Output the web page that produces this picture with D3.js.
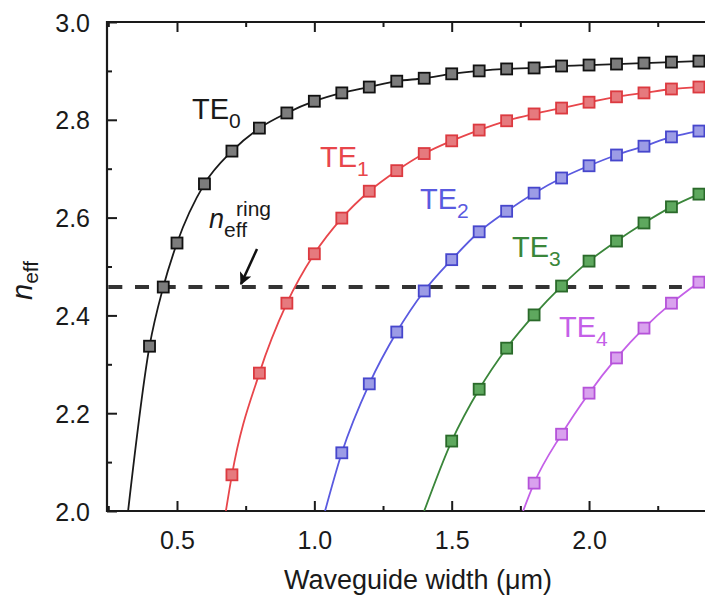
<!DOCTYPE html>
<html><head><meta charset="utf-8">
<script src="https://cdn.jsdelivr.net/npm/d3@7"></script>
<style>
body{margin:0;background:#fff}
text{font-family:"Liberation Sans",Arial,Helvetica,sans-serif;fill:#1a1a1a}
</style>
</head><body>
<svg id="chart" width="705" height="596"></svg>
<script>
// ---- data ----
const te0X = [0.4,0.45,0.5,0.6,0.7,0.8,0.9,1.0,1.1,1.2,1.3,1.4,1.5,1.6,1.7,1.8,1.9,2.0,2.1,2.2,2.3,2.4];
const te0N = [2.337,2.458,2.548,2.669,2.736,2.783,2.814,2.838,2.855,2.867,2.879,2.885,2.894,2.900,2.904,2.906,2.910,2.912,2.914,2.916,2.918,2.920];
const te1X = [0.7,0.8,0.9,1.0,1.1,1.2,1.3,1.4,1.5,1.6,1.7,1.8,1.9,2.0,2.1,2.2,2.3,2.4];
const te1N = [2.074,2.282,2.425,2.526,2.599,2.654,2.696,2.731,2.757,2.779,2.798,2.812,2.824,2.836,2.847,2.855,2.863,2.867];
const te2X = [1.1,1.2,1.3,1.4,1.5,1.6,1.7,1.8,1.9,2.0,2.1,2.2,2.3,2.4];
const te2N = [2.119,2.260,2.366,2.450,2.514,2.571,2.613,2.650,2.681,2.706,2.728,2.746,2.765,2.777];
const te3X = [1.5,1.6,1.7,1.8,1.9,2.0,2.1,2.2,2.3,2.4];
const te3N = [2.143,2.249,2.333,2.401,2.460,2.511,2.552,2.589,2.622,2.648];
const te4X = [1.8,1.9,2.0,2.1,2.2,2.3,2.4];
const te4N = [2.057,2.157,2.241,2.313,2.374,2.425,2.468];
const cutoffWidths = [0.322,0.678,1.039,1.400,1.760]; // where each mode's curve meets n = 2.0
const modeNames = ["TE","TE","TE","TE","TE"];
const modeSubs = ["0","1","2","3","4"];
const ringIndex = 2.458;
const ringSpan = [0.25,2.338];
const xTicks = [0.5,1.0,1.5,2.0];
const xMinorTicks = [0.25,0.75,1.25,1.75,2.25];
const yTicks = [2.0,2.2,2.4,2.6,2.8,3.0];
const yMinorTicks = [2.1,2.3,2.5,2.7,2.9];

const seriesX = [te0X,te1X,te2X,te3X,te4X];
const seriesN = [te0N,te1N,te2N,te3N,te4N];

// ---- styles ----
const lineColors = ["#1a1a1a","#e8464b","#5a5ae0","#3a863a","#c460e8"];
const fillColors = ["#7c7c7c","#e67a7e","#9c9ce6","#5ea85e","#d9a2ee"];
const strokeColors = ["#111111","#dc3a40","#4646cc","#2a6a2a","#b552d9"];
const labelPos = [[192,119],[320,167],[420,209],[512,257],[559,337]];

const svg = d3.select("#chart");
const L = 107, T = 22, B = 511, R = 705;
const x = d3.scaleLinear().domain([0.2452, 2.4199]).range([L, L + (2.4199-0.2452)*274.7]);
const y = d3.scaleLinear().domain([2.0, 3.0]).range([B, T]);

svg.append("defs").append("clipPath").attr("id","clip")
  .append("rect").attr("x",L).attr("y",T).attr("width",R-L).attr("height",B-T);

// axes frame
const axisG = svg.append("g");
axisG.append("line").attr("x1",L).attr("x2",R).attr("y1",B).attr("y2",B).attr("stroke","#1a1a1a").attr("stroke-width",2.2);
axisG.append("line").attr("x1",L).attr("x2",R).attr("y1",T).attr("y2",T).attr("stroke","#1a1a1a").attr("stroke-width",2.2);
axisG.append("line").attr("x1",L).attr("x2",L).attr("y1",T-1).attr("y2",B+1).attr("stroke","#1a1a1a").attr("stroke-width",2.2);

// x ticks (inward, bottom and top)
const xAxisB = d3.axisBottom(x).tickValues(xTicks).tickSize(-10).tickPadding(20).tickFormat(d3.format(".1f"));
const gxb = svg.append("g").attr("transform",`translate(0,${B})`).call(xAxisB);
const xAxisT = d3.axisTop(x).tickValues(xTicks).tickSize(-10).tickFormat("");
const gxt = svg.append("g").attr("transform",`translate(0,${T})`).call(xAxisT);
const xAxisBm = d3.axisBottom(x).tickValues(xMinorTicks).tickSize(-5).tickFormat("");
const gxbm = svg.append("g").attr("transform",`translate(0,${B})`).call(xAxisBm);
const xAxisTm = d3.axisTop(x).tickValues(xMinorTicks).tickSize(-5).tickFormat("");
const gxtm = svg.append("g").attr("transform",`translate(0,${T})`).call(xAxisTm);
const yAxis = d3.axisLeft(y).tickValues(yTicks).tickSize(-10).tickPadding(17).tickFormat(d3.format(".1f"));
const gy = svg.append("g").attr("transform",`translate(${L},0)`).call(yAxis);
const yAxisM = d3.axisLeft(y).tickValues(yMinorTicks).tickSize(-5).tickFormat("");
const gym = svg.append("g").attr("transform",`translate(${L},0)`).call(yAxisM);
[gxb,gxt,gxbm,gxtm,gy,gym].forEach(g=>{
  g.select(".domain").remove();
  g.selectAll(".tick line").attr("stroke","#1a1a1a").attr("stroke-width",2);
  g.selectAll(".tick text").attr("font-size",25).attr("fill","#1a1a1a")
   .attr("font-family",'"Liberation Sans",Arial,Helvetica,sans-serif');
});
gy.selectAll(".tick text").attr("dy","0.36em");

// data
const plot = svg.append("g").attr("clip-path","url(#clip)");

// ring index dashed line
plot.append("line")
  .attr("x1",x(ringSpan[0])).attr("x2",x(ringSpan[1]))
  .attr("y1",y(ringIndex)).attr("y2",y(ringIndex))
  .attr("stroke","#333").attr("stroke-width",4).attr("stroke-dasharray","14,12.7");

const line = d3.line().x(d=>x(d[0])).y(d=>y(d[1])).curve(d3.curveMonotoneX);
seriesX.forEach((xs,i)=>{
  const pts = [[cutoffWidths[i],2.0]].concat(xs.map((v,j)=>[v,seriesN[i][j]]));
  plot.append("path").datum(pts).attr("d",line)
    .attr("fill","none").attr("stroke",lineColors[i]).attr("stroke-width",1.8);
});
const S = 11;
seriesX.forEach((xs,i)=>{
  plot.append("g").selectAll("rect").data(xs.map((v,j)=>[v,seriesN[i][j]])).join("rect")
    .attr("x",d=>x(d[0])-S/2).attr("y",d=>y(d[1])-S/2)
    .attr("width",S).attr("height",S)
    .attr("fill",fillColors[i]).attr("stroke",strokeColors[i]).attr("stroke-width",1.8);
});

// mode labels
modeNames.forEach((nm,i)=>{
  const t = svg.append("text").attr("x",labelPos[i][0]).attr("y",labelPos[i][1])
    .attr("font-size",29).style("fill",lineColors[i]);
  t.append("tspan").text(nm);
  t.append("tspan").attr("font-size",21).attr("dy",9).text(modeSubs[i]);
});

// n_eff^ring label
const nr = svg.append("text").attr("x",209).attr("y",228).attr("font-size",27);
nr.append("tspan").attr("font-style","italic").text("n");
nr.append("tspan").attr("font-size",21).attr("dy",9).text("eff");
svg.append("text").attr("x",236).attr("y",216).attr("font-size",21).text("ring");

// arrow
svg.append("defs").append("marker").attr("id","ah").attr("viewBox","0 0 10 10")
  .attr("refX",9).attr("refY",5).attr("markerWidth",5).attr("markerHeight",5)
  .attr("orient","auto").append("path").attr("d","M0,0L10,5L0,10L2.5,5Z").attr("fill","#111");
svg.append("line").attr("x1",257).attr("y1",249).attr("x2",241).attr("y2",284)
  .attr("stroke","#111").attr("stroke-width",2.5).attr("marker-end","url(#ah)");

// axis titles
svg.append("text").attr("x",418).attr("y",589).attr("text-anchor","middle").attr("font-size",27)
  .text("Waveguide width (\u03BCm)");
const yl = svg.append("text").attr("transform","translate(32,300) rotate(-90)").attr("font-size",29);
yl.append("tspan").attr("font-style","italic").text("n");
yl.append("tspan").attr("font-size",21).attr("dy",6).text("eff");
</script>
</body></html>
